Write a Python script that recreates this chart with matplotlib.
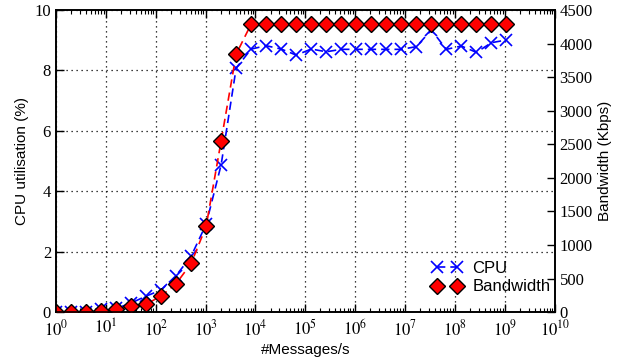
import numpy as np
import matplotlib
matplotlib.use("Agg")
from matplotlib import pyplot as plt
from matplotlib.ticker import FuncFormatter, LogLocator, MultipleLocator

plt.rcParams['mathtext.fontset'] = 'stix'

# messages per second: powers of two
exponents = list(range(31))
cpu = [0.0, 0.0, 0.0, 0.1, 0.12, 0.3, 0.53, 0.73, 1.21, 1.85, 2.91, 4.88,
       8.08, 8.71, 8.82, 8.71, 8.51, 8.71, 8.62, 8.70, 8.70, 8.70, 8.70,
       8.70, 8.79, 9.34, 8.70, 8.81, 8.60, 8.92, 9.01]
bandwidth = [5, 3, 3, 18, 40, 90, 117, 240, 423, 725, 1278, 2552, 3843,
             4293, 4293, 4293, 4293, 4293, 4293, 4293, 4293, 4293, 4293,
             4293, 4293, 4293, 4293, 4293, 4293, 4293, 4293]

x = [2.0 ** e for e in exponents]

serif = 'Liberation Serif'
sans = 'Liberation Sans'

fig = plt.figure(figsize=(6.29, 3.6), dpi=100)
ax = fig.add_axes([0.089, 0.133, 0.793, 0.839])
ax2 = ax.twinx()

l1, = ax.plot(x, cpu, color='blue', linestyle=(0, (5, 3)), linewidth=1.2,
              marker='x', markersize=8, markeredgewidth=1.2, label='CPU')
l2, = ax2.plot(x, bandwidth, color='red', linestyle=(0, (5, 3)), linewidth=1.2,
               marker='D', markersize=8, markerfacecolor='red',
               markeredgecolor='black', markeredgewidth=1.0, label='Bandwidth')

ax.set_xscale('log')
ax.set_xlim(1, 1e10)
ax.set_ylim(0, 10)
ax2.set_ylim(0, 4500)

ax.xaxis.set_major_locator(LogLocator(base=10, numticks=20))
ax.xaxis.set_minor_locator(LogLocator(base=10, subs=np.arange(2, 10), numticks=20))
ax.xaxis.set_major_formatter(FuncFormatter(lambda v, p: r'$10^{%d}$' % round(np.log10(v))))
ax.yaxis.set_major_locator(MultipleLocator(2))
ax2.yaxis.set_major_locator(MultipleLocator(500))

ax.tick_params(axis='both', which='major', direction='in', length=6, top=True,
               right=False, labelsize=12, width=1)
ax.tick_params(axis='x', which='major', pad=5)
ax.tick_params(axis='x', which='minor', direction='in', length=3, top=True, width=0.8)
ax2.tick_params(axis='y', which='major', direction='in', length=6, labelsize=12, width=1)

for lab in ax.get_yticklabels() + ax2.get_yticklabels():
    lab.set_fontfamily(serif)

ax.grid(True, which='major', color='black', linestyle=(0, (1, 3)), linewidth=0.9)

for a in (ax, ax2):
    for s in a.spines.values():
        s.set_linewidth(1.2)

ax.set_xlabel('#Messages/s', fontfamily=sans, fontsize=11, labelpad=3)
ax.set_ylabel('CPU utilisation (%)', fontfamily=sans, fontsize=11)
ax2.set_ylabel('Bandwidth (Kbps)', fontfamily=sans, fontsize=11)

ax2.legend([l1, l2], ['CPU', 'Bandwidth'], loc='lower right', frameon=False,
           numpoints=2, handlelength=1.8, prop={'family': sans, 'size': 12},
           bbox_to_anchor=(1.015, 0.02), borderaxespad=0.3, handletextpad=0.6,
           labelspacing=0.2)

fig.savefig('out.png', dpi=100)
